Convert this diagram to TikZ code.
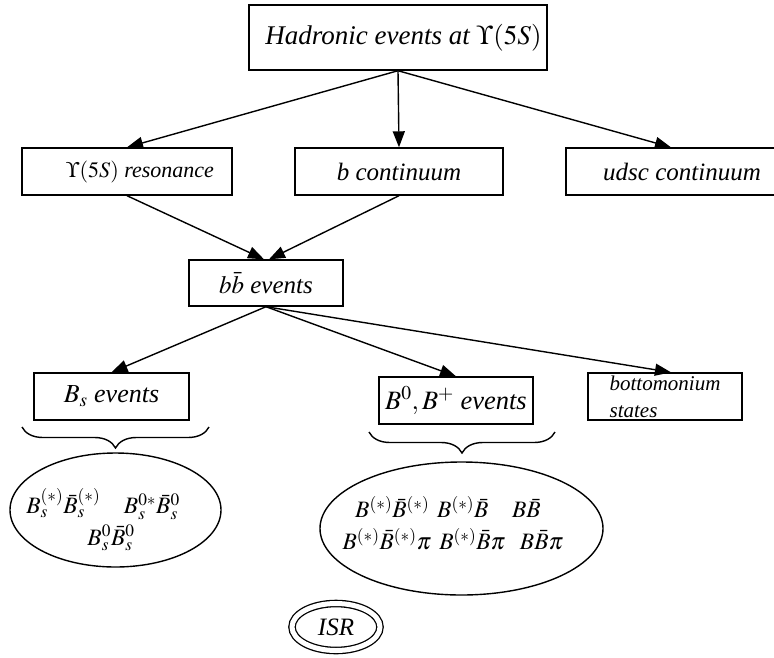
\documentclass[tikz,border=0pt]{standalone}
\usepackage{mathptmx}
\usepackage[no-math]{fontspec}
\setmainfont{Liberation Serif}
\usetikzlibrary{arrows.meta,shapes.geometric,decorations.pathreplacing}
\begin{document}
\begin{tikzpicture}[x=1pt,y=-1pt,
  box/.style={draw,line width=1.4pt,rectangle,inner sep=0pt,minimum height=47pt,
    font=\fontsize{25}{29}\selectfont\itshape},
  oval/.style={draw,line width=1.4pt,ellipse,inner sep=0pt},
  mathtxt/.style={inner sep=0pt,font=\fontsize{23.5}{27}\selectfont},
  arr/.style={-{Triangle[length=16pt,width=12pt]},line width=1.4pt},
  bracestyle/.style={decorate,decoration={brace,mirror,amplitude=21pt},line width=1.4pt}]
\clip (0,0) rectangle (774,657);
% boxes
\node[box,minimum width=298pt,minimum height=65pt,font=\fontsize{27}{31}\selectfont\itshape] (top) at (398,37.5) {\hspace*{11pt}Hadronic events at $\Upsilon(5S)$};
\node[box,minimum width=210pt,font=\fontsize{22}{26}\selectfont\itshape] (ups) at (127,171.5) {\hspace*{26pt}$\Upsilon(5S)$ resonance};
\node[box,minimum width=208pt] (bc) at (399,171.5) {b continuum};
\node[box,minimum width=220pt] (udsc) at (676,171.5) {\hspace*{12pt}udsc continuum};
\node[box,minimum width=154pt,minimum height=46pt] (bb) at (266,283) {$b\bar b$ events};
\node[box,minimum width=155pt,font=\fontsize{26}{30}\selectfont\itshape] (bs) at (111.5,396.5) {$B_s$ events};
\node[box,minimum width=154pt,font=\fontsize{26.5}{30}\selectfont\itshape] (bz) at (456,400.5) {$B^0, B^+$ events};
\node[box,minimum width=154pt,align=left,font=\fontsize{21}{27}\selectfont\itshape] (bot) at (665,396.5) {bottomonium\\states};
% arrows
\draw[arr] (top.south) -- (ups.north);
\draw[arr] (top.south) -- (bc.north);
\draw[arr] (top.south) -- (udsc.north -| 671,0);
\draw[arr] (ups.south) -- ([xshift=-2pt]bb.north);
\draw[arr] (bc.south) -- ([xshift=3pt]bb.north);
\draw[arr] (bb.south) -- (bs.north);
\draw[arr] (bb.south) -- (bz.north);
\draw[arr] (bb.south) -- ([xshift=6pt]bot.north);
% braces
\coordinate (bsl) at (22,427);
\coordinate (bsr) at (209,427);
\coordinate (bzl) at (369,432);
\coordinate (bzr) at (555,432);
\draw[bracestyle] (bsl) -- (bsr);
\draw[bracestyle] (bzl) -- (bzr);
% ellipses
\node[oval,minimum width=211pt,minimum height=114pt] (bsell) at (115.5,510) {};
\node[mathtxt] (bsa) at (103,504) {$B_s^{(*)}\bar B_s^{(*)}\quad B_s^{0*}\bar B_s^0$};
\node[mathtxt] (bsb) at (111,538) {$B_s^0\bar B_s^0$};
\node[oval,minimum width=283pt,minimum height=133pt] (bzell) at (461.5,528.5) {};
\node[mathtxt] (bza) at (448,507) {$B^{(*)}\bar B^{(*)}\;\,B^{(*)}\bar B\quad B\bar B$};
\node[mathtxt] (bzb) at (453,539) {$B^{(*)}\bar B^{(*)}\pi\;\,B^{(*)}\bar B\pi\enspace\, B\bar B\pi$};
% ISR
\node[oval,double,double distance=5pt,line width=1.3pt,minimum width=88pt,minimum height=47pt,
  font=\fontsize{25}{29}\selectfont\itshape] (isr) at (336,627) {ISR};
\end{tikzpicture}
\end{document}
